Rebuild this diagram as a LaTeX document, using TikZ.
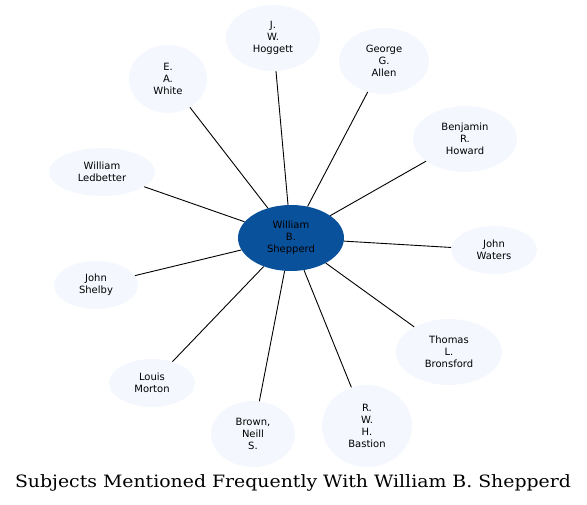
\documentclass[tikz,border=0pt]{standalone}
\usepackage{fontspec}
\setsansfont{DejaVu Sans}
\newfontfamily\sbcaptionfont[FakeStretch=1.11]{DejaVu Serif}
\usetikzlibrary{shapes.geometric}
\definecolor{sbhub}{HTML}{0A519B}
\definecolor{sbpale}{HTML}{F4F8FE}
\definecolor{sbink}{HTML}{000000}
\tikzset{
  sb person/.style={ellipse, fill=sbpale, draw=none, inner sep=0pt, align=center,
    font=\sffamily\fontsize{10}{12}\selectfont, text=sbink},
  sb hub/.style={sb person, fill=sbhub},
  sb link/.style={draw=sbink, line width=0.9pt},
  sb title/.style={font=\sbcaptionfont\fontsize{17}{20}\selectfont, text=sbink}
}
\begin{document}
\begin{tikzpicture}[x=1pt, y=-1pt]
  \useasboundingbox (0,0) rectangle (587,505);
  \node[sb hub, minimum width=106pt, minimum height=66pt] (shepperd) at (291,238) {William\\B.\\Shepperd};
  \node[sb person, minimum width=94pt, minimum height=66pt] (hoggett) at (273,38) {J.\\W.\\Hoggett};
  \node[sb person, minimum width=90pt, minimum height=66pt] (allen) at (384,61) {George\\G.\\Allen};
  \node[sb person, minimum width=78pt, minimum height=68pt] (white) at (168,79) {E.\\A.\\White};
  \node[sb person, minimum width=104pt, minimum height=66pt] (howard) at (465,139) {Benjamin\\R.\\Howard};
  \node[sb person, minimum width=106pt, minimum height=48pt] (ledbetter) at (102,172) {William\\Ledbetter};
  \node[sb person, minimum width=86pt, minimum height=48pt] (waters) at (494,250) {John\\Waters};
  \node[sb person, minimum width=84pt, minimum height=48pt] (shelby) at (96,285) {John\\Shelby};
  \node[sb person, minimum width=106pt, minimum height=66pt] (bronsford) at (449,352) {Thomas\\L.\\Bronsford};
  \node[sb person, minimum width=86pt, minimum height=48pt] (morton) at (152,383) {Louis\\Morton};
  \node[sb person, minimum width=84pt, minimum height=66pt] (neill) at (253,434) {Brown,\\Neill\\S.};
  \node[sb person, minimum width=90pt, minimum height=82pt] (bastion) at (367,426) {R.\\W.\\H.\\Bastion};
  \foreach \who in {hoggett,allen,white,howard,ledbetter,waters,shelby,bronsford,morton,neill,bastion}
    {\draw[sb link] (shepperd) -- (\who);}
  \node[sb title] (caption) at (293,483) {Subjects Mentioned Frequently With William B. Shepperd};
\end{tikzpicture}
\end{document}
